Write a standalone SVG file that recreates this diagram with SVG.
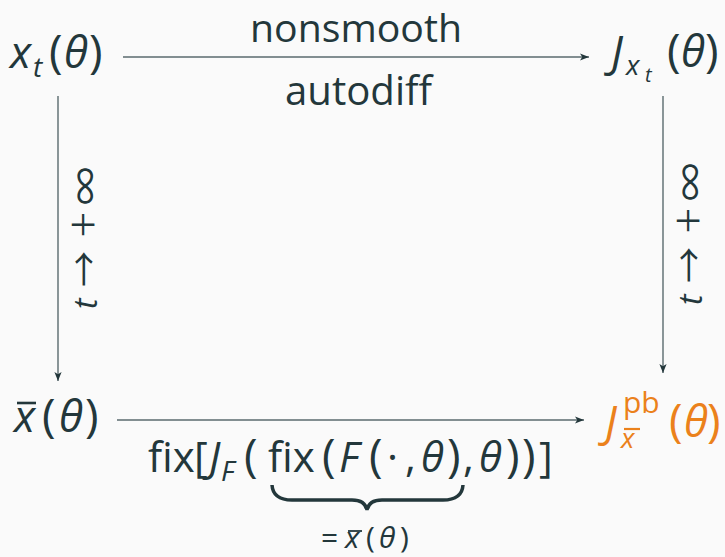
<svg xmlns="http://www.w3.org/2000/svg" width="725" height="557" viewBox="0 0 725 557">
<defs>
<style>
text{font-family:"Open Sans","Noto Sans",sans-serif;fill:#23373b}
.it{font-style:italic}
.sym{font-family:"Noto Sans CJK SC","DejaVu Sans",sans-serif}
.lt{font-weight:300}
.p{font-size:46px}
.or{fill:#eb811b}
.ln{stroke:#5a6a6e;stroke-width:1.4;fill:none}
</style>
<marker id="ah" viewBox="0 0 10 10" refX="10" refY="5" markerWidth="9" markerHeight="9" markerUnits="userSpaceOnUse" orient="auto">
<path d="M0,1 L10,5 L0,9 L2.5,5 Z" fill="#23373b"/>
</marker>
</defs>
<rect width="725" height="557" fill="#fafafa"/>
<g id="connectors">
<line class="ln" x1="123" y1="57" x2="589" y2="57" marker-end="url(#ah)"/>
<line class="ln" x1="58" y1="96" x2="58" y2="381" marker-end="url(#ah)"/>
<line class="ln" x1="663" y1="96" x2="663" y2="373" marker-end="url(#ah)"/>
<line class="ln" x1="117" y1="420" x2="584" y2="420" marker-end="url(#ah)"/>
<text x="250" y="42" font-size="39" textLength="212" lengthAdjust="spacingAndGlyphs">nonsmooth</text>
<text x="285" y="105" font-size="40" textLength="147" lengthAdjust="spacingAndGlyphs">autodiff</text>
<g transform="translate(97,309) rotate(-90)">
<text x="0" y="0" font-size="32" class="it">t</text>
<text x="22" y="1" font-size="36" class="sym">→</text>
<text x="72" y="3" font-size="46" class="sym lt">+</text>
<text x="104" y="2" font-size="38" class="sym">∞</text>
</g>
<g transform="translate(702,305) rotate(-90)">
<text x="0" y="0" font-size="32" class="it">t</text>
<text x="22" y="1" font-size="36" class="sym">→</text>
<text x="72" y="3" font-size="46" class="sym lt">+</text>
<text x="104" y="2" font-size="38" class="sym">∞</text>
</g>
</g>
<g id="node-xt" font-size="44">
<text y="68"><tspan x="10" class="it">x</tspan><tspan x="49" class="p">(</tspan><tspan x="64" class="it">θ</tspan><tspan x="89" class="p">)</tspan></text>
<text x="33" y="77" font-size="28" class="it">t</text>
</g>
<g id="node-Jxt" font-size="44">
<text y="67"><tspan x="611" class="it">J</tspan></text>
<text y="67"><tspan x="667" class="p">(</tspan><tspan x="681" class="it">θ</tspan><tspan x="705" class="p">)</tspan></text>
<text x="626" y="75" font-size="28" class="it">x</text>
<text x="645" y="82" font-size="20" class="it">t</text>
</g>
<g id="node-xbar" font-size="44">
<text y="432"><tspan x="14" class="it">x</tspan><tspan x="42" class="p">(</tspan><tspan x="59" class="it">θ</tspan><tspan x="85" class="p">)</tspan></text>
<line x1="17" y1="403" x2="36" y2="403" stroke="#23373b" stroke-width="2.6"/>
</g>
<g id="node-Jpb" font-size="44">
<text y="437" class="or"><tspan x="605" class="it">J</tspan></text>
<text y="437" class="or"><tspan x="669" class="p">(</tspan><tspan x="684" class="it">θ</tspan><tspan x="707" class="p">)</tspan></text>
<text x="623" y="413" font-size="30" class="or">pb</text>
<text x="621" y="448" font-size="28" class="or it">x</text>
<line x1="624" y1="429" x2="640" y2="429" stroke="#eb811b" stroke-width="2.2"/>
</g>
<g id="label-fix">
<text y="472" font-size="42"><tspan x="148">fix</tspan><tspan x="194">[</tspan><tspan x="209" class="it">J</tspan><tspan x="244" class="p">(</tspan><tspan x="268">fix</tspan><tspan x="322" class="p">(</tspan><tspan x="339" class="it">F</tspan><tspan x="369" class="p">(</tspan><tspan x="387">·</tspan><tspan x="405">,</tspan><tspan x="421" class="it">θ</tspan><tspan x="447" class="p">)</tspan><tspan x="463">,</tspan><tspan x="479" class="it">θ</tspan><tspan x="506" class="p">)</tspan><tspan x="522" class="p">)</tspan><tspan x="539">]</tspan></text>
<text x="221" y="481" font-size="28" class="it">F</text>
<path d="M272,485 Q273,500 292,500 L352,500 Q365,500 367,510 Q369,500 382,500 L443,500 Q462,500 463,485" stroke="#23373b" stroke-width="3.5" fill="none"/>
<text y="548" font-size="30"><tspan x="321">=</tspan><tspan x="345" class="it">x</tspan><tspan x="366">(</tspan><tspan x="379" class="it">θ</tspan><tspan x="400">)</tspan></text>
<line x1="348" y1="531" x2="362" y2="531" stroke="#23373b" stroke-width="1.8"/>
</g>
</svg>
